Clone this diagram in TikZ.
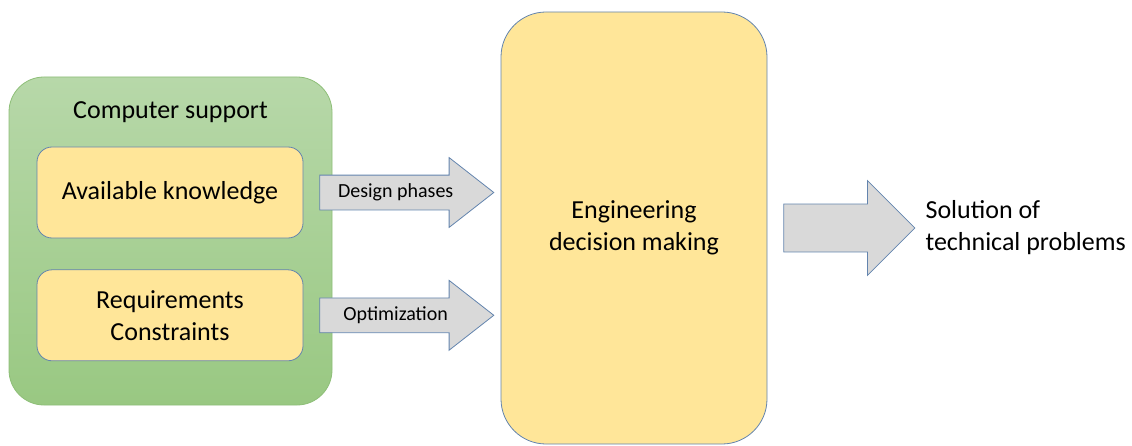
\documentclass[tikz,border=0pt]{standalone}
\usepackage{fontspec}
\setmainfont{Carlito}
\usetikzlibrary{arrows.meta,positioning,shapes.arrows}
\definecolor{boxyellow}{HTML}{FFE699}
\definecolor{edgeblue}{HTML}{6384AE}
\definecolor{arrowgray}{HTML}{D9D9D9}
\definecolor{greentop}{HTML}{B7D8A9}
\definecolor{greenbot}{HTML}{99C882}
\definecolor{greenline}{HTML}{8DBE77}

\begin{document}
\begin{tikzpicture}[
    x=1pt, y=1pt,
    every node/.style={font=\fontsize{26}{32}\selectfont},
    group/.style={draw=greenline, line width=0.8pt, rounded corners=35pt, top color=greentop, bottom color=greenbot, minimum width=323pt, minimum height=328pt},
    item/.style={draw=edgeblue, line width=0.8pt, rounded corners=15pt, fill=boxyellow, minimum width=266pt, minimum height=91pt, align=center},
    flow/.style={single arrow, draw=edgeblue, fill=arrowgray, line width=0.8pt, single arrow head extend=17.5pt, single arrow tip angle=76, minimum height=174pt, text height=14pt, text depth=4pt, inner ysep=8pt, font=\fontsize{20}{24}\selectfont},
    bigflow/.style={single arrow, draw=edgeblue, fill=arrowgray, line width=0.8pt, single arrow head extend=23.5pt, single arrow tip angle=90, minimum height=131pt, text height=0pt, text depth=0pt, inner ysep=23.5pt, inner xsep=0pt},
    node distance=16pt
  ]
    \useasboundingbox (0,0) rectangle (1132,445);
    \node[group] (grp) at (170.5,204) {};
    \node (title) at (170.5,333) {Computer support};
    \node[item] (avail) at (170,252.5) {Available knowledge};
    \node[item, below=31pt of avail] (reqs) {Requirements\\Constraints};
    \node[item, minimum height=432pt, rounded corners=45pt] (eng) at (634,217) {Engineering\\decision making};
    \node[flow, right=of avail] (design) {Design phases};
    \node[flow, right=of reqs] (optim) {Optimization};
    \node[bigflow, right=of eng] (result) {};
    \node[inner sep=0pt, align=left, right=10pt of result.tip] (sol) {Solution of\\technical problems};
  \end{tikzpicture}
\end{document}
